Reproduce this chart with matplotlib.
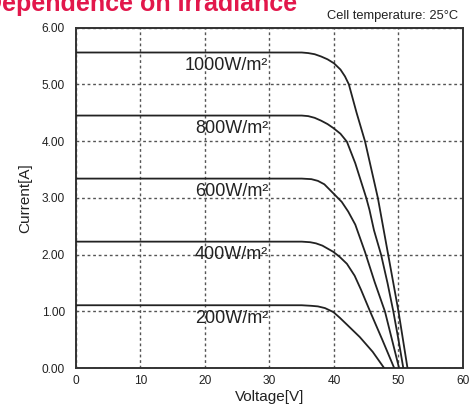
import matplotlib
matplotlib.use("Agg")
from matplotlib import pyplot as plt

# I-V curves, one list pair per irradiance level
irradiance_labels = ["1000W/m²", "800W/m²", "600W/m²", "400W/m²", "200W/m²"]

v_1000 = [0, 35, 36, 37, 38, 39, 40, 41, 41.7, 42.3, 43.5, 44.8, 45.8, 46.8,
          47.6, 48.4, 49.2, 50.0, 50.7, 51.4]
i_1000 = [5.56, 5.56, 5.55, 5.53, 5.49, 5.44, 5.37, 5.26, 5.14, 5.0, 4.5, 4.0,
          3.5, 3.0, 2.5, 2.0, 1.5, 1.0, 0.5, 0.0]

v_800 = [0, 35, 36, 37, 38, 39, 39.9, 41.0, 42.0, 43.3, 45.0, 45.5, 46.2,
         47.3, 48.3, 49.2, 50.0, 50.75]
i_800 = [4.45, 4.45, 4.44, 4.41, 4.36, 4.30, 4.23, 4.13, 3.99, 3.61, 3.0, 2.79,
         2.43, 2.0, 1.5, 1.0, 0.5, 0.0]

v_600 = [0, 35, 36.5, 37.5, 38.5, 39.9, 41.2, 42.2, 43.3, 44.8, 46.3, 47.9,
         49.0, 50.1]
i_600 = [3.34, 3.34, 3.33, 3.30, 3.24, 3.08, 2.93, 2.76, 2.53, 2.05, 1.52, 1.0,
         0.5, 0.0]

v_400 = [0, 35, 36.3, 37.2, 38.2, 39.9, 40.9, 42.0, 43.2, 44.2, 45.6, 47.5,
         49.35]
i_400 = [2.23, 2.23, 2.22, 2.20, 2.16, 2.05, 1.96, 1.84, 1.63, 1.38, 1.0, 0.5,
         0.0]

v_200 = [0, 35, 36.5, 37.5, 38.6, 39.9, 40.9, 42.0, 43.0, 44.0, 46.0, 47.8]
i_200 = [1.11, 1.11, 1.10, 1.09, 1.06, 0.99, 0.89, 0.77, 0.66, 0.55, 0.29, 0.0]

curves = [(v_1000, i_1000), (v_800, i_800), (v_600, i_600),
          (v_400, i_400), (v_200, i_200)]

x_ticks = [0, 10, 20, 30, 40, 50, 60]
y_ticks = [0, 1, 2, 3, 4, 5, 6]

narrow = ["Liberation Sans Narrow", "Liberation Sans", "DejaVu Sans"]
regular = ["Liberation Sans", "DejaVu Sans"]

fig = plt.figure(figsize=(4.74, 4.07), dpi=100)
ax = fig.add_axes([0.1603, 0.0951, 0.8165, 0.8373])

for v, i in curves:
  ax.plot(v, i, color="#222222", linewidth=1.3, zorder=3)

for label, (v, i) in zip(irradiance_labels, curves):
  ax.text(29.8, i[0] - 0.31, label, ha="right", va="baseline",
          fontsize=13, family=regular, color="#222222", zorder=4)

ax.set_xlim(0, 60)
ax.set_ylim(0, 6)
ax.set_xticks(x_ticks)
ax.set_yticks(y_ticks)
ax.set_xticklabels([str(t) for t in x_ticks], family=narrow, fontsize=8.6)
ax.set_yticklabels(["%.2f" % t for t in y_ticks], family=narrow, fontsize=8.6)
ax.tick_params(length=0, colors="#222222")
ax.tick_params(axis="y", pad=8)
ax.tick_params(axis="x", pad=5)

ax.grid(True, color="#555555", linestyle=(0, (2, 2)), linewidth=1.0, zorder=1)
for spine in ax.spines.values():
  spine.set_color("#333333")
  spine.set_linewidth(1.4)

ax.set_xlabel("Voltage[V]", family=regular, fontsize=11, color="#222222",
              labelpad=2)
ax.set_ylabel("Current[A]", family=regular, fontsize=11, color="#222222",
              labelpad=7)

fig.text(458 / 474, 1 - 18.5 / 407, "Cell temperature: 25°C", ha="right",
         va="baseline", fontsize=9.3, family=regular, color="#222222")
# the heading sits partly above the top edge, as in the source image
fig.text(297 / 474, 1 - 10.5 / 407, "Dependence on Irradiance", ha="right",
         va="baseline", fontsize=18, fontweight="bold", family=regular,
         color="#E2174B")

fig.savefig("out.png", dpi=100)
